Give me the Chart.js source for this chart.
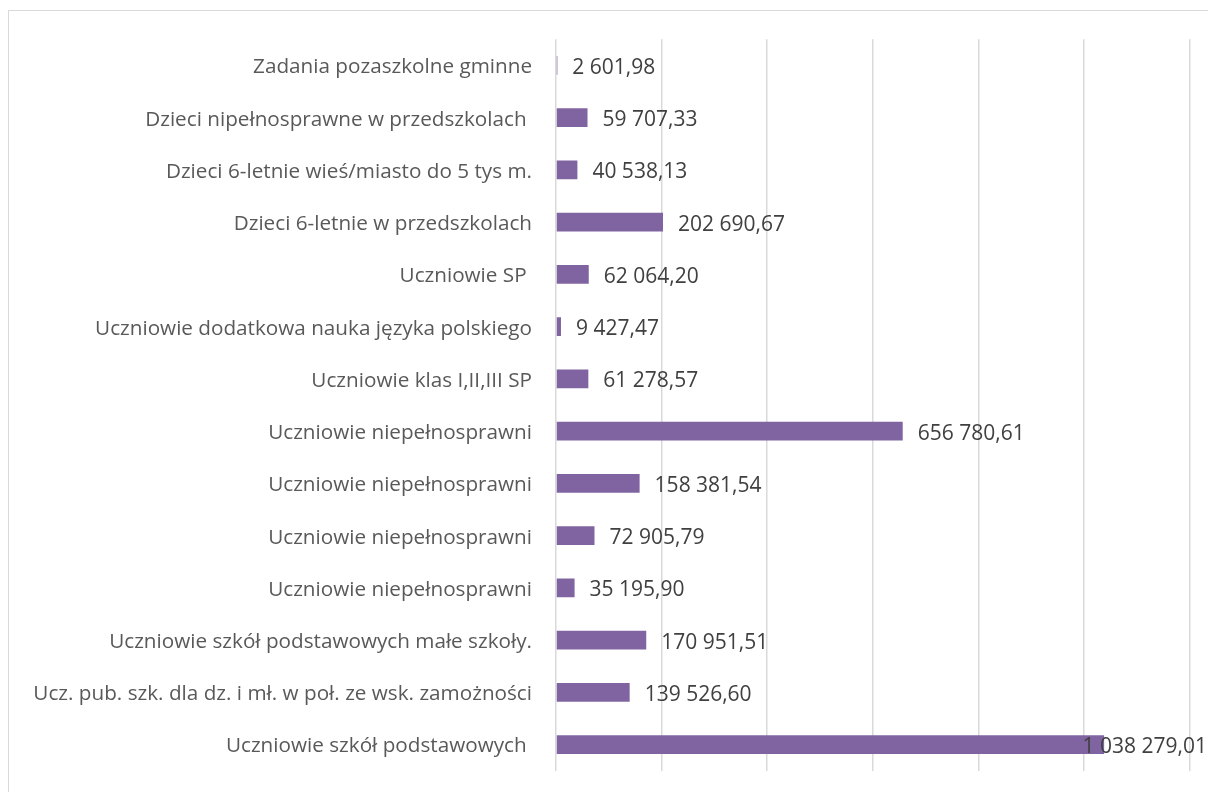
<!DOCTYPE html>
<html>
<head>
<meta charset="utf-8">
<script src="https://cdn.jsdelivr.net/npm/chart.js@4.4.0/dist/chart.umd.min.js"></script>
<style>
  html, body { margin: 0; padding: 0; background: #fff; overflow: hidden; }
  #wrap { position: relative; width: 1208px; height: 792px; }
  #frame { position: absolute; left: 8px; top: 10px; width: 1300px; height: 900px; border: 1px solid #d9d9d9; box-sizing: border-box; }
  canvas { position: absolute; left: 0; top: 0; }
</style>
</head>
<body>
<div id="wrap">
  <div id="frame"></div>
  <canvas id="c" width="1208" height="792"></canvas>
</div>
<script>
const categories = [
  "Zadania pozaszkolne gminne",
  "Dzieci nipełnosprawne w przedszkolach ",
  "Dzieci 6-letnie wieś/miasto do 5 tys m.",
  "Dzieci 6-letnie w przedszkolach",
  "Uczniowie SP ",
  "Uczniowie dodatkowa nauka języka polskiego",
  "Uczniowie klas I,II,III SP",
  "Uczniowie niepełnosprawni",
  "Uczniowie niepełnosprawni",
  "Uczniowie niepełnosprawni",
  "Uczniowie niepełnosprawni",
  "Uczniowie szkół podstawowych małe szkoły.",
  "Ucz. pub. szk. dla dz. i mł. w poł. ze wsk. zamożności",
  "Uczniowie szkół podstawowych "
];
const values = [
  2601.98, 59707.33, 40538.13, 202690.67, 62064.20, 9427.47, 61278.57,
  656780.61, 158381.54, 72905.79, 35195.90, 170951.51, 139526.60, 1038279.01
];
const valueLabels = [
  "2 601,98", "59 707,33", "40 538,13", "202 690,67", "62 064,20", "9 427,47", "61 278,57",
  "656 780,61", "158 381,54", "72 905,79", "35 195,90", "170 951,51", "139 526,60", "1 038 279,01"
];
const axisMax = 1200000;
const axisStep = 200000;

const FONT = "'Open Sans', sans-serif";

const valueLabelPlugin = {
  id: 'valueLabels',
  afterDatasetsDraw(chart) {
    const ctx = chart.ctx;
    const meta = chart.getDatasetMeta(0);
    ctx.save();
    ctx.font = "21px " + FONT;
    ctx.fillStyle = "#404040";
    ctx.textBaseline = "middle";
    ctx.textAlign = "left";
    meta.data.forEach((el, i) => {
      const txt = valueLabels[i];
      const w = ctx.measureText(txt).width;
      let x = el.x + 15;
      if (x + w > chart.width - 1) x = chart.width - 1 - w;
      ctx.fillText(txt, x, el.y + 2.5);
    });
    ctx.restore();
  }
};

new Chart(document.getElementById('c'), {
  type: 'bar',
  data: {
    labels: categories,
    datasets: [{
      data: values,
      backgroundColor: '#8064A2',
      borderWidth: 0,
      barPercentage: 0.358,
      categoryPercentage: 1.0
    }]
  },
  options: {
    indexAxis: 'y',
    responsive: false,
    animation: false,
    devicePixelRatio: 1,
    layout: { padding: { left: 0, top: 39.3, right: 18.5, bottom: 21.3 } },
    plugins: { legend: { display: false }, tooltip: { enabled: false } },
    scales: {
      x: {
        min: 0, max: axisMax,
        ticks: { display: false, stepSize: axisStep },
        grid: { color: '#d9d9d9', lineWidth: 1.5, drawTicks: false },
        border: { display: false },
        afterFit(scale) { scale.height = 0; }
      },
      y: {
        ticks: { color: '#595959', font: { family: FONT, size: 20.7 }, padding: 24, autoSkip: false, labelOffset: 2 },
        grid: { display: false, drawTicks: false },
        border: { display: false },
        afterFit(scale) { scale.width = 556; scale.paddingTop = 0; scale.paddingBottom = 0; }
      }
    }
  },
  plugins: [valueLabelPlugin]
});
</script>
</body>
</html>
